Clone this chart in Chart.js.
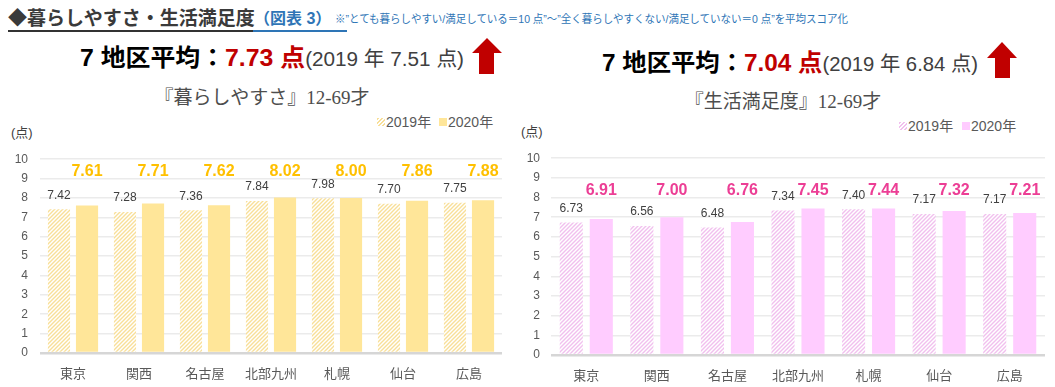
<!DOCTYPE html>
<html><head><meta charset="utf-8">
<script src="https://cdn.jsdelivr.net/npm/chart.js@4.4.0/dist/chart.umd.min.js"></script>
<style>
html,body{margin:0;padding:0;background:#fff;}
body{width:1055px;height:387px;position:relative;overflow:hidden;font-family:'Liberation Sans','Noto Sans CJK JP',sans-serif;}
.a{position:absolute;white-space:nowrap;line-height:1;}
canvas{position:absolute;}
.sw{position:absolute;width:8px;height:8px;}
</style></head><body>
<div class="a" id="t1" style="left:8px;top:9px;font-size:19px;font-weight:bold;color:#3a3a3a;">◆暮らしやすさ・生活満足度</div>
<div class="a" id="t2" style="left:254px;top:11px;font-size:16px;font-weight:bold;color:#2E75B6;">（図表 3）</div>
<div class="a" id="note" style="left:335px;top:14px;font-size:11px;color:#2E75B6;transform-origin:0 0;">※”とても暮らしやすい/満足している＝10 点”～”全く暮らしやすくない/満足していない＝0 点”を平均スコア化</div>
<div style="position:absolute;left:8px;top:30px;width:245px;height:2px;background:#333;"></div>
<div style="position:absolute;left:253px;top:30px;width:94px;height:2px;background:#2E75B6;"></div>

<div class="a" id="h1" style="left:80px;top:46px;transform-origin:0 0;"></div>
<div class="a" id="h2" style="left:602px;top:51px;transform-origin:0 0;"></div>
<svg style="position:absolute;left:0;top:0" width="1055" height="387">
<polygon points="487,38 502,53 494,53 494,74 479,74 479,53 472,53" fill="#C00000"/>
<polygon points="1002,42 1017,58 1010,58 1010,78 995,78 995,58 987,58" fill="#C00000"/>
</svg>
<div class="a" id="s1" style="left:262px;top:88px;font-size:19px;color:#4d4d4d;font-family:'Liberation Serif','Noto Sans CJK JP',serif;transform:translateX(-50%);"></div>
<div class="a" id="s2" style="left:783px;top:92px;font-size:19px;color:#4d4d4d;font-family:'Liberation Serif','Noto Sans CJK JP',serif;transform:translateX(-50%);"></div>

<div id="lg"></div>
<div class="a" style="left:11px;top:126px;font-size:13px;color:#404040;">(点)</div>
<div class="a" style="left:521px;top:125px;font-size:13px;color:#404040;">(点)</div>

<canvas id="c1" width="520" height="247" style="left:0;top:140px;"></canvas>
<canvas id="c2" width="535" height="247" style="left:520px;top:140px;"></canvas>
<script>
const categories = ['東京','関西','名古屋','北部九州','札幌','仙台','広島'];
const seriesNames = ['2019年','2020年'];
const kurashi2019 = [7.42,7.28,7.36,7.84,7.98,7.70,7.75];
const kurashi2020 = [7.61,7.71,7.62,8.02,8.00,7.86,7.88];
const manzoku2019 = [6.73,6.56,6.48,7.34,7.40,7.17,7.17];
const manzoku2020 = [6.91,7.00,6.76,7.45,7.44,7.32,7.21];
const avgKurashi = {y2020:'7.73', y2019:'7.51'};
const avgManzoku = {y2020:'7.04', y2019:'6.84'};
const yTicks = [0,1,2,3,4,5,6,7,8,9,10];
const subtitles = ['『暮らしやすさ』12-69才','『生活満足度』12-69才'];

function headline(el, a){
  el.innerHTML = '<span style="font-size:24px;font-weight:bold;color:#000;">7 地区平均：</span>'+
    '<span style="font-size:24px;font-weight:bold;color:#C00000;">'+a.y2020+' 点</span>'+
    '<span style="font-size:20px;color:#404040;">(2019 年 '+a.y2019+' 点)</span>';
}
headline(document.getElementById('h1'), avgKurashi);
headline(document.getElementById('h2'), avgManzoku);
document.getElementById('s1').textContent = subtitles[0];
document.getElementById('s2').textContent = subtitles[1];

function fitW(id, w){
  const el=document.getElementById(id); const r=el.getBoundingClientRect().width;
  el.style.transform='scaleX('+(w/r)+')';
}
fitW('note', 513);
fitW('h1', 384);
fitW('h2', 376);

const Y = {fill:'#FFE699', hatch:'#F8DF98', label:'#FFC000'};
const P = {fill:'#FFCCFF', hatch:'#F1C0EE', label:'#EC3E95'};

function legend(x1,x2,y,c){
  const lg=document.getElementById('lg');
  lg.insertAdjacentHTML('beforeend',
   '<div class="sw" style="left:'+x1+'px;top:'+(y-4)+'px;background:repeating-linear-gradient(135deg,'+c.hatch+' 0 1.5px,#fff 1.5px 3px);"></div>'+
   '<div class="a" style="left:'+(x1+9)+'px;top:'+(y-7)+'px;font-size:14px;color:#595959;">'+seriesNames[0]+'</div>'+
   '<div class="sw" style="left:'+x2+'px;top:'+(y-4)+'px;background:'+c.fill+';"></div>'+
   '<div class="a" style="left:'+(x2+9)+'px;top:'+(y-7)+'px;font-size:14px;color:#595959;">'+seriesNames[1]+'</div>');
}
legend(377,439,122,Y);
legend(899,962,126,P);

function hatch(color){
  const c=document.createElement('canvas'); c.width=c.height=4;
  const g=c.getContext('2d'); g.fillStyle='#fff'; g.fillRect(0,0,4,4);
  g.strokeStyle=color; g.lineWidth=1.4; g.beginPath();
  g.moveTo(-1,5); g.lineTo(5,-1); g.moveTo(-1,1); g.lineTo(1,-1); g.moveTo(3,5); g.lineTo(5,3);
  g.stroke(); return g.createPattern(c,'repeat');
}

const labelPlugin = {
  id:'vlabels',
  afterDatasetsDraw(chart, args, opts){
    const ctx=chart.ctx; const ys=chart.scales.y;
    ctx.save(); ctx.textAlign='center';
    chart.data.datasets.forEach((ds,di)=>{
      chart.getDatasetMeta(di).data.forEach((bar,i)=>{
        const v=ds.data[i].toFixed(2);
        if(di===0){
          ctx.font='12px "Liberation Sans","Noto Sans CJK JP",sans-serif';
          ctx.fillStyle='#404040'; ctx.textBaseline='middle';
          ctx.fillText(v, bar.x, bar.y-14);
        } else {
          ctx.font='bold 16px "Liberation Sans","Noto Sans CJK JP",sans-serif';
          ctx.fillStyle=opts.color; ctx.textBaseline='middle';
          const y=Math.min(bar.y-18, ys.getPixelForValue(opts.fixed));
          ctx.fillText(v, bar.x, y);
        }
      });
    });
    ctx.restore();
  }
};

function make(id, d19, d20, c, geo){
  const ctx=document.getElementById(id).getContext('2d');
  return new Chart(ctx,{
    type:'bar',
    data:{labels:categories, datasets:[
      {label:seriesNames[0], data:d19, backgroundColor:hatch(c.hatch), categoryPercentage:0.85, barPercentage:geo.bp},
      {label:seriesNames[1], data:d20, backgroundColor:c.fill, categoryPercentage:0.85, barPercentage:geo.bp}
    ]},
    options:{
      responsive:false, animation:false, devicePixelRatio:1,
      layout:{padding:{top:geo.top,right:geo.right,left:0,bottom:0}},
      plugins:{legend:{display:false},tooltip:{enabled:false},vlabels:{color:c.label,fixed:geo.fixed}},
      scales:{
        x:{grid:{display:false},border:{display:false},
           ticks:{padding:geo.xpad,color:'#595959',font:{size:13,family:'"Liberation Sans","Noto Sans CJK JP",sans-serif'}},
           afterFit(s){s.height=geo.xh;}},
        y:{min:0,max:10,
           afterBuildTicks(s){s.ticks=yTicks.map(v=>({value:v}));},
           grid:{drawTicks:false,color:(cx)=>cx.tick&&cx.tick.value===0?'#D6D6D6':'#EBEBEB',
                 lineWidth:(cx)=>cx.tick&&cx.tick.value===0?2.5:1.5},
           border:{display:false},
           ticks:{padding:geo.ypad,color:'#595959',font:{size:12,family:'"Liberation Sans",sans-serif'}},
           afterFit(s){s.width=geo.yw;}}
      }
    },
    plugins:[labelPlugin]
  });
}
make('c1', kurashi2019, kurashi2020, Y, {bp:0.79, top:17, right:18, xh:34, xpad:6, yw:40, ypad:12, fixed:9.36});
make('c2', manzoku2019, manzoku2020, P, {bp:0.77, top:12, right:10, xh:32, xpad:6, yw:31, ypad:11, fixed:8.37});
</script>
</body></html>
